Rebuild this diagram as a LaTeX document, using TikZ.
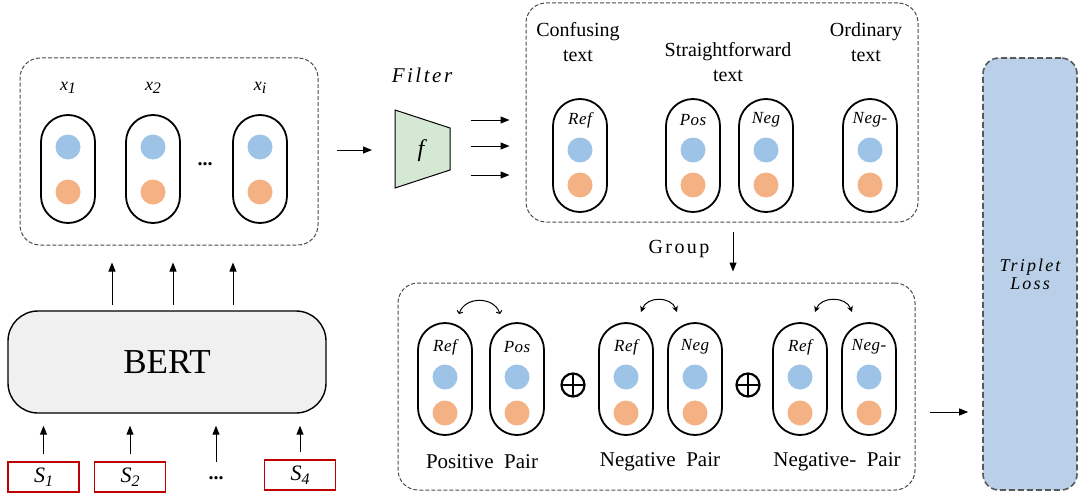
\documentclass[tikz,border=0pt]{standalone}
\usepackage{fontspec}
\setmainfont{Liberation Serif}
\usetikzlibrary{arrows.meta,positioning}
\definecolor{dotblue}{HTML}{9DC3E6}
\definecolor{dotorange}{HTML}{F4B183}
\definecolor{filtergreen}{HTML}{D5E8D4}
\definecolor{lossblue}{HTML}{BACFE8}
\definecolor{bertgray}{HTML}{F0F0F0}
\definecolor{sred}{HTML}{C00000}
% italic letter with a lowered index
\newcommand{\lowidx}[2]{\textit{#1}\raisebox{-0.4ex}{\footnotesize\textit{#2}}}

\begin{document}
\begin{tikzpicture}[x=0.5pt,y=-0.5pt,
    grpbox/.style={draw=black!70, dash pattern=on 2pt off 1pt, line width=0.5pt, rounded corners=10pt},
    capsule/.style={draw, line width=0.9pt, rounded corners=13.5pt, minimum width=27pt, inner sep=0pt},
    blob/.style={circle, inner sep=0pt, minimum size=12.5pt},
    capl/.style={font=\fontsize{8.5}{9}\selectfont\itshape\addfontfeature{LetterSpace=3}},
    arr/.style={-{Triangle[length=4.5pt,width=3.5pt]}, line width=0.5pt},
    sbox/.style={draw=sred, line width=0.6pt, minimum width=35.5pt, minimum height=15pt, inner sep=0pt, font=\fontsize{11}{11}\selectfont},
    title/.style={align=center, font=\fontsize{10}{12.5}\selectfont},
    plusop/.style={circle, draw, line width=1.1pt, minimum size=11.5pt, inner sep=0pt,
      path picture={\draw[line width=1.1pt] (path picture bounding box.north) -- (path picture bounding box.south)
        (path picture bounding box.west) -- (path picture bounding box.east);}}]
  \useasboundingbox (0,0) rectangle (1079,492);

  % encoder side
  \node[grpbox, minimum width=149pt, minimum height=93.5pt] (lbox) at (169,151.5) {};
  \node[font=\fontsize{9}{9}\selectfont] (x1) at (68,88) {\lowidx{x}{1}};
  \node[font=\fontsize{9}{9}\selectfont] (x2) at (153,88) {\lowidx{x}{2}};
  \node[font=\fontsize{9}{9}\selectfont] (xi) at (260,88) {\lowidx{x}{i}};
  \foreach \nm/\cx in {c1/68, c2/153, ci/260} {
    \node[capsule, minimum height=54pt] (\nm) at (\cx,169) {};
    \node[blob, fill=dotblue] (\nm b) at (\cx,147) {};
    \node[blob, fill=dotorange] (\nm o) at (\cx,192) {};
  }
  \node[font=\bfseries] (xdots) at (205,164) {...};

  \node[draw, fill=bertgray, line width=0.7pt, rounded corners=15pt, minimum width=159pt, minimum height=51pt,
    font=\fontsize{17.5}{20}\selectfont] (bert) at (167,362) {BERT};
  \foreach \nm/\xx in {u1/112, u2/173, u3/233} {
    \coordinate (\nm) at (\xx,305);
    \draw[arr] (\nm) -- ([yshift=-8.5pt]\nm |- lbox.south);
  }

  \node[sbox] (s1) at (43.5,477) {\lowidx{S}{1}};
  \node[sbox] (s2) at (130,477) {\lowidx{S}{2}};
  \node[font=\bfseries] (sdots) at (216,478) {...};
  \node[sbox] (s4) at (300,475) {\lowidx{S}{4}};
  \foreach \nm in {s1, s2, sdots, s4}
    \draw[arr, shorten <=3.5pt, shorten >=6pt] (\nm.north) -- (\nm.north |- bert.south);

  % filter
  \node[font=\fontsize{10.5}{10.5}\selectfont\itshape\addfontfeature{LetterSpace=12}] (ftitle) at (422,75) {Filter};
  \draw[fill=filtergreen, line width=0.5pt] (395,110) -- (450,128) -- (450,170) -- (395,188) -- cycle;
  \node[font=\fontsize{12}{12}\selectfont\itshape] (filt) at (421,151) {f};
  \coordinate (fw) at (395,150);
  \draw[arr, shorten <=9pt, shorten >=11.5pt] (lbox.east |- fw) -- (fw);

  % filtered texts
  \node[grpbox, minimum width=196pt, minimum height=109.5pt] (rbox) at (722,112.5) {};
  \foreach \nm/\yy in {o1/120, o2/146, o3/175} {
    \coordinate (\nm) at (471,\yy);
    \draw[arr] (\nm) -- ([xshift=-8pt]\nm -| rbox.west);
  }
  \node[title] (tconf) at (578,42) {Confusing\\text};
  \node[title] (tstr) at (728,62) {Straightforward\\text};
  \node[title] (tord) at (866,42) {Ordinary\\text};
  \foreach \nm/\cx/\lab in {ref/580/Ref, pos/693/Pos, neg/766/Neg, negm/870/Neg-} {
    \node[capsule, minimum height=56.5pt] (\nm) at (\cx,155.5) {};
    \node[capl] (\nm l) at (\cx,120) {\lab};
    \node[blob, fill=dotblue] (\nm b) at (\cx,150) {};
    \node[blob, fill=dotorange] (\nm o) at (\cx,185) {};
  }

  % grouping
  \node[grpbox, minimum width=258.5pt, minimum height=103.5pt] (bbox) at (656.5,386.5) {};
  \coordinate (gtop) at (733,232);
  \draw[arr] (gtop) -- ([yshift=5.5pt]gtop |- bbox.north);
  \node[font=\fontsize{10}{10}\selectfont\addfontfeature{LetterSpace=12}] (glab) at (679,249) {Group};
  \foreach \nm/\cx/\lab in {pr/445/Ref, pp/517/Pos, nr/626/Ref, nn/695/Neg, mr/800/Ref, mn/869/Neg-} {
    \node[capsule, minimum height=56pt] (\nm) at (\cx,379) {};
    \node[capl] (\nm l) at (\cx,347) {\lab};
    \node[blob, fill=dotblue] (\nm b) at (\cx,377) {};
    \node[blob, fill=dotorange] (\nm o) at (\cx,413) {};
  }
  \draw[{Straight Barb[length=1.2pt,width=3pt]}-{Straight Barb[length=1.2pt,width=3pt]}, line width=0.5pt]
    ([xshift=7pt,yshift=4pt]pr.north) .. controls +(3pt,9pt) and +(-3pt,9pt) .. ([xshift=-8.5pt,yshift=4pt]pp.north);
  \draw[{Stealth[length=3pt,width=3pt]}-{Stealth[length=3pt,width=3pt]}, line width=0.5pt]
    ([xshift=7.5pt,yshift=5pt]nr.north) .. controls +(3pt,8pt) and +(-3pt,8pt) .. ([xshift=-9pt,yshift=5pt]nn.north);
  \draw[{Stealth[length=3pt,width=3pt]}-{Stealth[length=3pt,width=3pt]}, line width=0.5pt]
    ([xshift=7.5pt,yshift=5pt]mr.north) .. controls +(3pt,8pt) and +(-3pt,8pt) .. ([xshift=-8.5pt,yshift=5pt]mn.north);
  \node[plusop] (plus1) at (573,385) {};
  \node[plusop] (plus2) at (748,385) {};
  \node[font=\fontsize{10.5}{10.5}\selectfont] (lpos) at (482,462) {Positive\hspace{0.5em}Pair};
  \node[font=\fontsize{10.5}{10.5}\selectfont] (lneg) at (660,462) {Negative\hspace{0.5em}Pair};
  \node[font=\fontsize{10.5}{10.5}\selectfont] (lnegm) at (837,462) {Negative-\hspace{0.5em}Pair};

  % loss
  \node[draw=black!65, fill=lossblue, dash pattern=on 3pt off 1.5pt, line width=0.8pt, rounded corners=8pt,
    minimum width=47pt, minimum height=216pt, align=center,
    font=\fontsize{9}{9}\selectfont\itshape\addfontfeature{LetterSpace=12}] (loss) at (1030,274) {Triplet\\Loss};
  \coordinate (lo) at (930,412);
  \draw[arr] (lo) -- ([xshift=-7pt]lo -| loss.west);
\end{tikzpicture}
\end{document}
